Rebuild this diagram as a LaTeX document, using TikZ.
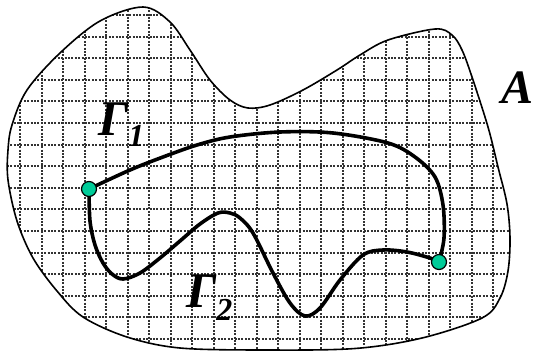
\documentclass[tikz,border=0pt]{standalone}
\usepackage{fontspec}
\setmainfont{Liberation Serif}
\definecolor{dotfill}{RGB}{0,204,153}
\begin{document}
\begin{tikzpicture}[x=1pt,y=-1pt,
  gridline/.style={black!80,line width=2pt,dash pattern=on 1.9pt off 1.5pt},
  outline/.style={black,line width=1.6pt},
  curve/.style={black,line width=3.6pt,line cap=round,line join=round},
  endpt/.style={circle,draw=black,line width=1.2pt,fill=dotfill,minimum size=15pt,inner sep=0pt},
  lbl/.style={inner sep=0pt,font=\bfseries\itshape\fontsize{50}{50}\selectfont}]
\useasboundingbox (0,0) rectangle (535,351);
\def\blob{plot[smooth cycle,tension=0.55] coordinates {
  (143,7) (170,22) (190,50) (210,80) (230,100) (248,108) (270,105) (303,90)
  (337,70) (360,55) (388,40) (435,29) (452,35) (462,50) (472,77) (488,127)
  (498,167) (507,204) (510,238) (508,271) (500,298) (482,318) (422,338)
  (355,348.5) (265,350) (180,348) (127,337) (83,317) (57,291) (33,258)
  (17,221) (8,180) (8,150) (12,125) (27,90) (60,53) (100,21)}}
\begin{scope}
  \clip \blob;
  \foreach \k in {0,...,15} \draw[gridline] (0,15+\k*21.6) -- (535,15+\k*21.6);
  \foreach \k in {0,...,22} \draw[gridline] (20+\k*21.5,0) -- (20+\k*21.5,351);
\end{scope}
\draw[outline] \blob;
\coordinate (p1) at (89,189);
\coordinate (p2) at (439,262);
\draw[curve] plot[smooth,tension=0.55] coordinates {(p1) (130,170) (163,157) (197,145) (230,137)
  (280,132) (333,133) (388,143) (415,157) (435,177) (443,205) (444,238) (p2)};
\draw[curve] plot[smooth,tension=0.55] coordinates {(p1) (90,221) (95,245) (103,263) (112,274) (123,279)
  (140,273) (160,258) (180,241) (200,224) (218,213) (230,213) (240,218) (253,233)
  (273,273) (290,303) (305,316) (320,308) (340,280) (363,255) (383,250) (407,252)
  (430,258) (p2)};
\node[endpt] (c1) at (p1) {};
\node[endpt] (c2) at (p2) {};
\node[lbl,anchor=base west] (g1) at (98,135) {Γ\raisebox{-11pt}{\fontsize{32}{32}\selectfont 1}};
\node[lbl,anchor=base west] (g2) at (186,307) {Γ\raisebox{-13pt}{\fontsize{32}{32}\selectfont 2}};
\node[lbl,anchor=base west,font=\bfseries\itshape\fontsize{48}{48}\selectfont] (a) at (501,103) {A};
\end{tikzpicture}
\end{document}
